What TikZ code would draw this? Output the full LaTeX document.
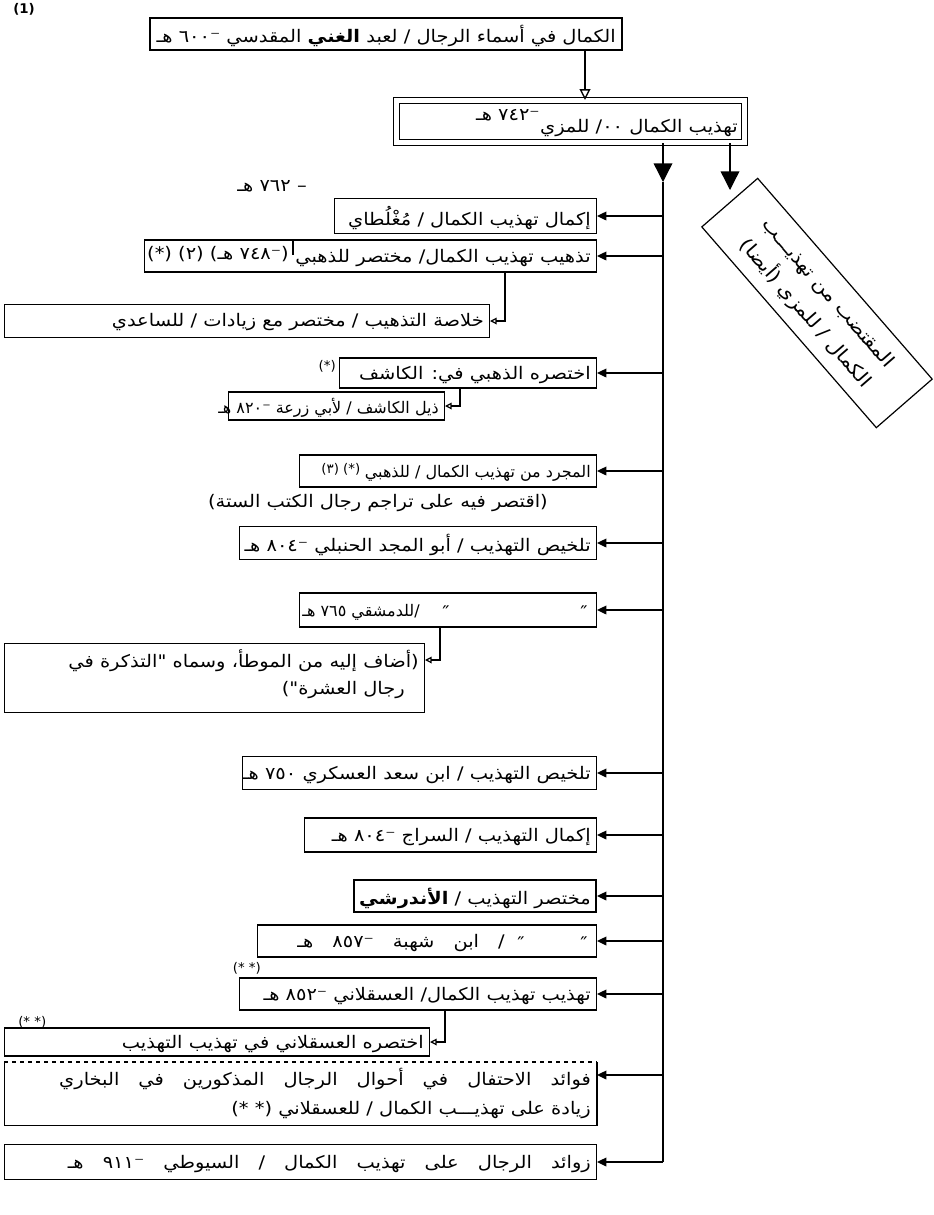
\documentclass[tikz,border=0pt]{standalone}
\usepackage{fontspec}
\usetikzlibrary{arrows.meta,calc}
\TeXXeTstate=1
\newfontfamily\arfont[Script=Arabic]{DejaVu Sans}
\newfontfamily\arwide[Script=Arabic,FakeStretch=1.12]{DejaVu Sans}
\newfontfamily\dvfont{DejaVu Sans}
\newcommand{\RR}[1]{\beginR #1\endR}
\newcommand{\widesp}{\spaceskip=1.1em plus 0.1em\relax}
\begin{document}
\begin{tikzpicture}[x=0.75pt,y=-0.75pt,
  bx/.style={draw, line width=0.9pt, inner sep=0pt},
  tx/.style={inner sep=0pt, font=\arwide\fontsize{13}{15}\selectfont},
  tn/.style={inner sep=0pt, font=\arfont\fontsize{12}{14}\selectfont},
  sm/.style={inner sep=0pt, font=\arfont\fontsize{10}{12}\selectfont},
  br/.style={line width=1pt, -{Triangle[length=7pt,width=6.5pt]}},
  sub/.style={line width=0.9pt, -{Triangle[open,length=5pt,width=5pt]}},
  big/.style={line width=1pt, -{Triangle[length=14pt,width=14pt]}},
  ln/.style={line width=1pt}]
\useasboundingbox (0,0) rectangle (934,1215);
\fill[white] (0,0) rectangle (934,1215);

% label
\node[inner sep=0pt, font=\dvfont\bfseries\fontsize{10}{12}\selectfont] (lab) at (24,9) {(1)};

% top boxes
\node[bx, minimum width=354pt, minimum height=24pt] (b1) at (386,34) {};
\node[tx, anchor=east] (t1) at (616,36) {\RR{الكمال في أسماء الرجال / لعبد {\bfseries الغني} المقدسي ⁻٦٠٠ هـ}};

\node[draw, double, line width=0.9pt, double distance=3.6pt, inner sep=0pt,
      minimum width=261pt, minimum height=31.5pt] (b2) at (570.5,121.5) {};
\node[tx, anchor=east] (t2) at (738,128) {\RR{تهذيب الكمال ٠٠/ للمزي}};
\node[tx, anchor=east] (t2d) at (540,115) {\RR{⁻٧٤٢ هـ}};

\coordinate (x1) at (585,0);
\draw[ln, -{Triangle[open,length=8pt,width=8pt]}] (b1.south -| x1) -- (b2.north -| x1);

% trunk
\coordinate (tx) at (663,0);
\coordinate (tA) at (663,182);
\draw[big] (b2.south -| tx) -- (tA);

% rotated box
\node[bx, rotate=-49, minimum width=199.5pt, minimum height=55.5pt] (rb) at (817,303) {};
\node[inner sep=0pt, font=\arwide\fontsize{14}{16}\selectfont, rotate=-49] (rb1) at ($(rb.center)+(10.5,-9.2)$) {\RR{المقتضب من تهذيـــب}};
\node[inner sep=0pt, font=\arwide\fontsize{14}{16}\selectfont, rotate=-49] (rb2) at ($(rb.center)+(-10.5,9.2)$) {\RR{الكمال / للمزي (أيضا)}};
\coordinate (rx) at (730,0);
\coordinate (rA) at (730,190);
\draw[big] (b2.south -| rx) -- (rA);

% row boxes
\node[bx, minimum width=196.5pt, minimum height=26.25pt, anchor=east] (a) at (597,216) {};
\node[bx, minimum width=339pt, minimum height=24pt, anchor=east] (b) at (597,256) {};
\node[bx, minimum width=363.75pt, minimum height=24.75pt, anchor=east] (c) at (490,321) {};
\node[bx, minimum width=192.75pt, minimum height=22.5pt, anchor=east] (d) at (597,373) {};
\node[bx, minimum width=162pt, minimum height=21pt, anchor=east] (e) at (445,406) {};
\node[bx, minimum width=222.75pt, minimum height=24pt, anchor=east] (f) at (597,471) {};
\node[bx, minimum width=267.75pt, minimum height=24.75pt, anchor=east] (g) at (597,543) {};
\node[bx, minimum width=222.75pt, minimum height=25.5pt, anchor=east] (h) at (597,610) {};
\node[bx, minimum width=315pt, minimum height=51.75pt, anchor=north east] (i) at (425,643) {};
\node[bx, minimum width=265.5pt, minimum height=24.75pt, anchor=east] (j) at (597,773) {};
\node[bx, minimum width=219pt, minimum height=25.5pt, anchor=east] (k) at (597,835) {};
\node[bx, line width=1.6pt, minimum width=181.5pt, minimum height=24pt, anchor=east] (l) at (597,896) {};
\node[bx, minimum width=254.25pt, minimum height=24pt, anchor=east] (m) at (597,941) {};
\node[bx, minimum width=267.75pt, minimum height=24pt, anchor=east] (n) at (597,994) {};
\node[bx, minimum width=318.75pt, minimum height=21pt, anchor=east] (o) at (430,1042) {};
\node[inner sep=0pt, minimum width=444pt, minimum height=47.25pt, anchor=north east] (p) at (597,1062) {};
\draw[line width=0.9pt] (p.north east) -- (p.south east) -- (p.south west) -- (p.north west);
\draw[line width=0.9pt, dashed] (p.north west) -- (p.north east);
\node[bx, minimum width=444pt, minimum height=26.25pt, anchor=east] (q) at (597,1162) {};

% trunk line and branches
\draw[ln] (tA) -- (q.east -| tx);
\foreach \r in {a,b,d,f,g,h,j,k,l,m,n,q}{
  \draw[br] (\r.east -| tx) -- (\r.east);
}
\draw[br] ([yshift=-9.75pt]p.north east -| tx) -- ([yshift=-9.75pt]p.north east);

% sub-branches
\coordinate (cx) at (505,0);
\coordinate (ex) at (460,0);
\coordinate (ix) at (440,0);
\coordinate (ox) at (445,0);
\draw[sub] (b.south -| cx) |- (c.east);
\draw[sub] (d.south -| ex) |- (e.east);
\draw[sub] (h.south -| ix) |- ([yshift=-12.75pt]i.north east);
\draw[sub] (n.south -| ox) |- (o.east);

% texts
\node[tx, anchor=east] (ta) at (591,218) {\RR{إكمال تهذيب الكمال / مُغْلُطاي}};
\node[tx, anchor=east] (tad) at (307,186) {\RR{– ٧٦٢ هـ}};

\node[tx, anchor=east] (tb) at (591,258) {\RR{تذهيب تهذيب الكمال/ مختصر للذهبي}};
\coordinate (bdv) at (293,0);
\draw[line width=0.9pt] (b.north -| bdv) -- ([yshift=-12pt]b.north -| bdv);
\node[tx, anchor=east] (tbd) at (289,254) {\RR{(⁻٧٤٨ هـ) (٢) (*)}};

\node[tx, anchor=east] (tc) at (484,322) {\RR{خلاصة التذهيب / مختصر مع زيادات / للساعدي}};

\node[tx, anchor=east] (td) at (591,375) {\RR{اختصره الذهبي في: الكاشف}};
\node[sm, anchor=east] (tdd) at (336,366) {(*)};

\node[tn, anchor=east] (te) at (439,408) {\RR{ذيل الكاشف / لأبي زرعة ⁻٨٢٠ هـ}};

\node[tn, anchor=east] (tf) at (591,473) {\RR{المجرد من تهذيب الكمال / للذهبي}};
\node[sm, anchor=east] (tfd) at ([xshift=-3pt,yshift=3pt]tf.west) {\RR{(*) (٣)}};
\node[tx, anchor=east] (tfc) at (548,503) {\RR{(اقتصر فيه على تراجم رجال الكتب الستة)}};

\node[tx, anchor=east] (tg) at (591,545) {\RR{تلخيص التهذيب / أبو المجد الحنبلي ⁻٨٠٤ هـ}};

\node[tx, anchor=east] (th1) at (588,612) {\RR{″}};
\node[tx, anchor=east] (th2) at (450,612) {\RR{″}};
\node[tn, anchor=east] (th) at (420,612) {\RR{/للدمشقي ٧٦٥ هـ}};

\node[tx, anchor=east] (ti1) at (419,661) {\RR{(أضاف إليه من الموطأ، وسماه "التذكرة في}};
\node[tx, anchor=east] (ti2) at (405,690) {\RR{رجال العشرة")}};

\node[tx, anchor=east] (tj) at (591,775) {\RR{تلخيص التهذيب / ابن سعد العسكري ٧٥٠ هـ}};
\node[tx, anchor=east] (tk) at (591,837) {\RR{إكمال التهذيب / السراج ⁻٨٠٤ هـ}};
\node[tx, anchor=east] (tl) at (591,898) {\RR{مختصر التهذيب /  {\bfseries الأندرشي}}};

\node[tx, anchor=east] (tm1) at (588,943) {\RR{″}};
\node[tx, anchor=east] (tm2) at (525,943) {\RR{″}};
\node[tx, anchor=east] (tm) at (505,943) {\widesp\RR{/ ابن شهبة ⁻٨٥٧ هـ}};

\node[tx, anchor=east] (tn) at (591,996) {\RR{تهذيب تهذيب الكمال/ العسقلاني ⁻٨٥٢ هـ}};
\node[sm, anchor=south] (tnd) at ([xshift=6pt,yshift=2pt]n.north west) {\RR{(* *)}};

\node[tx, anchor=east] (to) at (424,1044) {\RR{اختصره العسقلاني في تهذيب التهذيب}};
\node[sm, anchor=west] (tod) at (18,1022) {\RR{(* *)}};

\node[tx, anchor=east] (tp1) at (591,1079) {\widesp\RR{فوائد الاحتفال في أحوال الرجال المذكورين في البخاري}};
\node[tx, anchor=east] (tp2) at (591,1110) {\RR{زيادة على تهذيـــب الكمال / للعسقلاني (* *)}};

\node[tx, anchor=east] (tq) at (591,1164) {\widesp\RR{زوائد الرجال على تهذيب الكمال / السيوطي ⁻٩١١ هـ}};
\end{tikzpicture}
\end{document}
